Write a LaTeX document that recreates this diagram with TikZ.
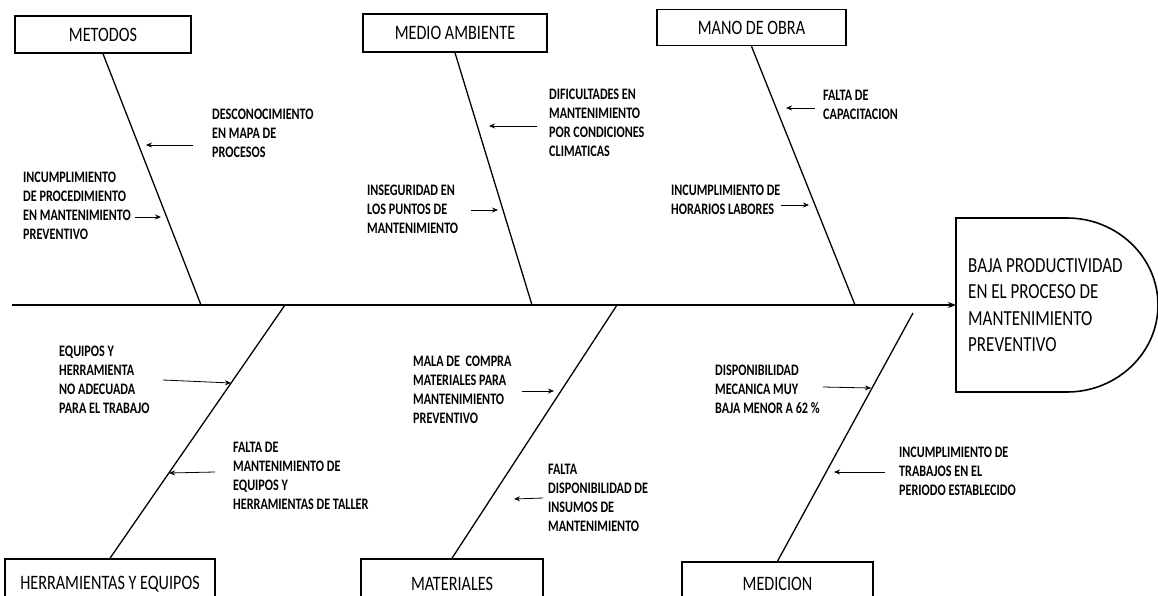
\documentclass[tikz,border=0pt]{standalone}
\usepackage{fontspec}
\newfontfamily\cf[FakeStretch=0.79]{Carlito}
\newfontfamily\cfb[FakeStretch=0.76]{Carlito}
\usetikzlibrary{arrows.meta}
\begin{document}
\begin{tikzpicture}[x=1pt,y=-1pt,
  cat/.style={draw, line width=1.6pt, inner sep=0pt, font=\cf\fontsize{20.5}{20.5}\selectfont},
  cause/.style={anchor=north west, align=left, inner sep=0pt, font=\cfb\bfseries\fontsize{16}{19}\selectfont},
  headtxt/.style={anchor=north west, align=left, inner sep=0pt, font=\cf\fontsize{21.5}{26.5}\selectfont},
  bone/.style={line width=1.3pt},
  spine/.style={line width=2pt, -{Stealth[length=8pt,width=6pt]}},
  small/.style={line width=0.8pt, -{Stealth[length=6pt,width=5pt]}}]
\clip (0,0) rectangle (1158,596);
\fill[white] (0,0) rectangle (1158,596);

% head
\draw[line width=1.6pt] (956,218) -- (1067,218)
  .. controls (1117,218) and (1158,257) .. (1158,305)
  .. controls (1158,353) and (1117,392) .. (1067,392) -- (956,392) -- cycle;
\coordinate (headw) at (956,305);
\node[headtxt] (head) at (968,258) {BAJA PRODUCTIVIDAD\\EN EL PROCESO DE\\MANTENIMIENTO\\PREVENTIVO};

% spine
\coordinate (tail) at (12,305);
\draw[spine] (tail) -- (headw);

% category boxes
\node[cat, minimum width=176, minimum height=37] (metodos) at (103,34.5) {METODOS};
\node[cat, minimum width=184, minimum height=38] (medio) at (455,33) {MEDIO AMBIENTE};
\node[cat, minimum width=189, minimum height=36] (mano) at (751.5,27.5) {MANO DE OBRA};
\node[cat, minimum width=210, minimum height=50] (herr) at (110,584) {HERRAMIENTAS Y EQUIPOS};
\node[cat, minimum width=182, minimum height=50] (mat) at (452,584) {MATERIALES};
\node[cat, minimum width=191, minimum height=44] (med) at (777.5,584) {MEDICION};

% bones
\coordinate (b1) at (201,305);
\coordinate (b2) at (532,305);
\coordinate (b3) at (855,305);
\coordinate (b4) at (285,305);
\coordinate (b5) at (617,305);
\coordinate (b6) at (913,313);
\draw[bone] (metodos.south) -- (b1);
\draw[bone] (medio.south) -- (b2);
\draw[bone] (mano.south) -- (b3);
\draw[bone] (herr.north) -- (b4);
\draw[bone] (mat.north) -- (b5);
\draw[bone] (med.north) -- (b6);

% causes
\node[cause] (t1) at (212,109) {DESCONOCIMIENTO\\EN MAPA DE\\PROCESOS};
\node[cause] (t2) at (23,172) {INCUMPLIMIENTO\\DE PROCEDIMIENTO\\EN MANTENIMIENTO\\PREVENTIVO};
\node[cause] (t3) at (549,89) {DIFICULTADES EN\\MANTENIMIENTO\\POR CONDICIONES\\CLIMATICAS};
\node[cause] (t4) at (367,185) {INSEGURIDAD EN\\LOS PUNTOS DE\\MANTENIMIENTO};
\node[cause] (t5) at (823,90) {FALTA DE\\CAPACITACION};
\node[cause] (t6) at (671,185) {INCUMPLIMIENTO DE\\HORARIOS LABORES};
\node[cause] (t7) at (59,346) {EQUIPOS Y\\HERRAMIENTA\\NO ADECUADA\\PARA EL TRABAJO};
\node[cause] (t8) at (233,442) {FALTA DE\\MANTENIMIENTO DE\\EQUIPOS Y\\HERRAMIENTAS DE TALLER};
\node[cause] (t9) at (413,356) {MALA DE~~COMPRA\\MATERIALES PARA\\MANTENIMIENTO\\PREVENTIVO};
\node[cause] (t10) at (548,464) {FALTA\\DISPONIBILIDAD DE\\INSUMOS DE\\MANTENIMIENTO};
\node[cause] (t11) at (715,365) {DISPONIBILIDAD\\MECANICA MUY\\BAJA MENOR A 62 \%};
\node[cause] (t12) at (899,447) {INCUMPLIMIENTO DE\\TRABAJOS EN EL\\PERIODO ESTABLECIDO};

% cause arrows
\coordinate (a1s) at (193,145);  \coordinate (a1e) at (146,145);
\coordinate (a2s) at (135,217);  \coordinate (a2e) at (161,217);
\coordinate (a3s) at (537,126);  \coordinate (a3e) at (489,126);
\coordinate (a4s) at (471,210);  \coordinate (a4e) at (498,210);
\coordinate (a5s) at (815,108);  \coordinate (a5e) at (786,108);
\coordinate (a6s) at (781,205);  \coordinate (a6e) at (809,205);
\coordinate (a7s) at (163,380);  \coordinate (a7e) at (231,383);
\coordinate (a8s) at (215,472);  \coordinate (a8e) at (169,473);
\coordinate (a9s) at (522,391);  \coordinate (a9e) at (554,391);
\coordinate (a10s) at (543,498); \coordinate (a10e) at (514,499);
\coordinate (a11s) at (823,387); \coordinate (a11e) at (871,388);
\coordinate (a12s) at (885,472); \coordinate (a12e) at (834,472);
\foreach \i in {1,...,12} {\draw[small] (a\i s) -- (a\i e);}
\end{tikzpicture}
\end{document}
